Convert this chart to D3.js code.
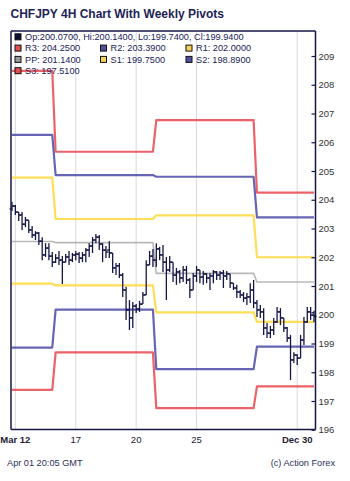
<!DOCTYPE html>
<html><head><meta charset="utf-8">
<script src="https://cdn.jsdelivr.net/npm/d3@7"></script>
<style>body{margin:0;background:#fff}svg{display:block}text{font-family:"Liberation Sans",Arial,sans-serif}</style>
</head><body>
<svg id="c" width="350" height="481"></svg>
<script>
// ---- data ----
const opens  = [203.68,203.78,203.57,203.47,203.15,203.29,202.95,202.77,202.84,202.56,202.08,202.32,202.04,201.83,201.97,201.90,201.83,202.01,201.90,202.08,202.11,201.97,202.08,202.25,202.39,202.60,202.70,202.46,202.25,202.25,202.15,201.63,201.70,201.38,200.86,200.17,199.89,200.30,200.20,200.37,200.69,201.73,202.04,201.90,202.29,202.08,201.83,201.56,201.83,201.38,201.49,201.28,201.56,201.21,200.86,201.35,201.56,201.31,201.42,201.28,201.35,201.49,201.38,201.45,201.35,201.42,201.10,200.93,200.79,200.69,200.58,200.62,200.86,200.41,200.17,200.10,199.54,199.36,199.47,199.75,200.10,199.89,199.54,199.19,198.43,198.60,198.49,199.12,199.75,200.10,200.07];
const highs  = [203.92,203.82,203.57,203.57,203.40,203.29,203.09,202.91,202.88,202.70,202.49,202.49,202.18,202.11,202.22,202.04,202.11,202.22,202.15,202.22,202.18,202.18,202.32,202.49,202.70,202.81,202.77,202.49,202.39,202.56,202.15,201.80,201.80,201.45,200.97,200.51,200.44,200.37,200.48,200.79,201.90,202.22,202.29,202.49,202.36,202.43,202.01,202.04,201.83,201.63,201.56,201.70,201.70,201.28,201.45,201.70,201.56,201.52,201.45,201.45,201.56,201.52,201.52,201.56,201.52,201.42,201.10,201.04,200.86,200.79,200.76,201.10,201.21,200.51,200.34,200.23,199.71,199.61,199.89,200.27,200.23,199.89,199.57,199.30,198.70,198.63,199.30,199.92,200.27,200.27,200.14];
const lows   = [203.61,203.47,203.26,202.95,203.05,202.84,202.67,202.60,202.43,201.90,202.01,201.90,201.66,201.80,201.73,201.07,201.83,201.73,201.83,201.90,201.80,201.83,201.83,202.01,202.15,202.49,202.25,201.83,201.97,201.97,201.45,201.38,201.28,200.62,199.82,199.47,199.54,200.06,200.10,200.37,200.69,201.73,201.66,201.66,201.90,201.49,200.51,201.49,201.14,201.04,201.10,201.14,201.07,200.58,200.86,201.14,201.10,201.04,201.10,200.86,201.10,201.21,201.21,200.93,201.21,200.93,200.86,200.58,200.58,200.44,200.34,200.41,200.23,199.92,199.89,199.30,199.19,199.19,199.30,199.71,199.64,199.40,199.05,197.73,198.32,198.25,198.49,198.95,199.71,199.82,199.74];
const closes = [203.78,203.57,203.47,203.15,203.29,202.95,202.77,202.84,202.56,202.08,202.32,202.04,201.83,201.97,201.90,201.83,202.01,201.90,202.08,202.11,201.97,202.08,202.25,202.39,202.60,202.70,202.46,202.25,202.18,202.15,201.63,201.70,201.38,200.86,200.17,199.89,200.30,200.20,200.37,200.69,201.73,202.04,201.90,202.29,202.08,201.83,201.56,201.83,201.38,201.49,201.28,201.56,201.21,200.86,201.35,201.56,201.31,201.42,201.28,201.35,201.49,201.38,201.45,201.35,201.42,201.10,200.93,200.79,200.69,200.58,200.62,200.86,200.41,200.17,200.10,199.54,199.36,199.47,199.75,200.10,199.89,199.54,199.19,198.43,198.60,198.49,199.12,199.75,200.10,199.99,199.94];

// weekly pivots (one value per week), week starts given as bar index
const weekStarts = [0, 13, 43, 73];
const R3 = [208.48, 205.67, 206.77, 204.25];
const R2 = [206.26, 204.86, 204.80, 203.39];
const R1 = [204.77, 203.33, 203.46, 202.00];
const PP = [202.55, 202.51, 201.44, 201.14];
const S1 = [201.08, 201.02, 200.08, 199.75];
const S2 = [198.86, 200.18, 198.11, 198.89];
const S3 = [197.39, 198.69, 196.75, 197.51];

const xTickIdx = [1, 19, 37, 55, 85];
const xTickLabels = ["Mar 12", "17", "20", "25", "Dec 30"];
const xTickBold = [true, false, false, false, true];
const yTicks = [196,197,198,199,200,201,202,203,204,205,206,207,208,209];

const title = "CHFJPY 4H Chart With Weekly Pivots";
const ohlcLabel = "Op:200.0700, Hi:200.1400, Lo:199.7400, Cl:199.9400";
const footLeft = "Apr 01 20:05 GMT";
const footRight = "(c) Action Forex";

// ---- drawing ----
const svg = d3.select("#c");
const N = opens.length;
const x = d3.scaleLinear().domain([0, N - 1]).range([12, 314]);
const y = d3.scaleLinear().domain([196, 209]).range([429.75, 56]);
const L = 11, R = 315.5, T = 31, B = 429.5;
const navy = "#161645";

// grid
svg.append("g").selectAll("line").data(xTickIdx).join("line")
  .attr("x1", d => x(d)).attr("x2", d => x(d)).attr("y1", T).attr("y2", B)
  .attr("stroke", "#d9d9e0").attr("stroke-width", 1);

// pivot lines
function weekOf(i){ let w = 0; weekStarts.forEach((s,k)=>{ if (i >= s) w = k; }); return w; }
const pivots = [
  {vals: R3, color: "#e8484e", w: 2.2},
  {vals: R2, color: "#4a4aa6", w: 2.2},
  {vals: R1, color: "#ffd83a", w: 2.2},
  {vals: PP, color: "#ababab", w: 1.6},
  {vals: S1, color: "#ffd83a", w: 2.2},
  {vals: S2, color: "#4a4aa6", w: 2.2},
  {vals: S3, color: "#e8484e", w: 2.2}
];
const line = d3.line().x(d => x(d[0])).y(d => y(d[1]));
pivots.forEach(p => {
  const pts = d3.range(N).map(i => [i, p.vals[weekOf(i)]]);
  svg.append("path").attr("d", line(pts)).attr("fill", "none")
    .attr("stroke", p.color).attr("stroke-width", p.w).attr("stroke-opacity", 0.85)
    .attr("stroke-linejoin", "round");
});

// OHLC bars
const gb = svg.append("g").attr("stroke", navy).attr("stroke-width", 1.3);
d3.range(N).forEach(i => {
  const cx = x(i);
  gb.append("line").attr("x1", cx).attr("x2", cx).attr("y1", y(highs[i])).attr("y2", y(lows[i]));
  gb.append("line").attr("x1", cx - 2.5).attr("x2", cx).attr("y1", y(opens[i])).attr("y2", y(opens[i]));
  gb.append("line").attr("x1", cx).attr("x2", cx + 2.5).attr("y1", y(closes[i])).attr("y2", y(closes[i]));
});

// frame
svg.append("line").attr("x1", L).attr("x2", L).attr("y1", T).attr("y2", B).attr("stroke", navy).attr("stroke-width", 1.5);
svg.append("line").attr("x1", L).attr("x2", R).attr("y1", T).attr("y2", T).attr("stroke", navy).attr("stroke-width", 1.5);
svg.append("line").attr("x1", L).attr("x2", R).attr("y1", B).attr("y2", B).attr("stroke", navy).attr("stroke-width", 1.5);

// right axis
const yAxis = d3.axisRight(y).tickValues(yTicks).tickSize(0).tickPadding(3).tickFormat(d3.format("d"));
const ga = svg.append("g").attr("transform", `translate(${R},0)`).call(yAxis);
ga.select(".domain").attr("stroke", navy).attr("stroke-width", 1.5).attr("d", `M0,${T}V${B}`);
ga.selectAll(".tick text").attr("font-size", 9.5).attr("fill", "#333").attr("font-family", "Liberation Sans, Arial, sans-serif");
ga.selectAll(".tick").append("line").attr("x1", -4).attr("x2", 0).attr("stroke", navy).attr("stroke-width", 1.2);

// x labels
svg.append("g").selectAll("text").data(xTickIdx).join("text")
  .attr("x", d => x(d)).attr("y", 443).attr("text-anchor", "middle")
  .attr("font-size", 9.5).attr("fill", "#222233")
  .attr("font-weight", (d,i) => xTickBold[i] ? "bold" : "normal")
  .text((d,i) => xTickLabels[i]);

// title
svg.append("text").attr("x", 10.5).attr("y", 18.3).attr("font-size", 12).attr("font-weight", "bold")
  .attr("fill", "#1c2456").text(title);

// legend
const txtCol = "#222255";
const legend = [
  {row:0, col:0, fill:"#0e0e35", label: ohlcLabel},
  {row:1, col:0, fill:"#e05050", label:"R3: 204.2500"},
  {row:1, col:1, fill:"#5050a0", label:"R2: 203.3900"},
  {row:1, col:2, fill:"#f5d555", label:"R1: 202.0000"},
  {row:2, col:0, fill:"#9a9a9a", label:"PP: 201.1400"},
  {row:2, col:1, fill:"#f5d555", label:"S1: 199.7500"},
  {row:2, col:2, fill:"#5050a0", label:"S2: 198.8900"},
  {row:3, col:0, fill:"#e05050", label:"S3: 197.5100"}
];
const colX = [15, 100.5, 186];
const gl = svg.append("g");
legend.forEach(e => {
  const cy = 36.8 + e.row * 11.3;
  gl.append("rect").attr("x", colX[e.col]).attr("y", cy - 3).attr("width", 6).attr("height", 6)
    .attr("fill", e.fill).attr("stroke", "#111").attr("stroke-width", 1);
  gl.append("text").attr("x", colX[e.col] + 10).attr("y", cy + 3.3).attr("font-size", 9.2)
    .attr("fill", txtCol).text(e.label);
});

// footer
svg.append("text").attr("x", 7).attr("y", 465.5).attr("font-size", 9.2).attr("fill", "#2a2f5a").text(footLeft);
svg.append("text").attr("x", 335).attr("y", 465.5).attr("font-size", 9.2).attr("fill", "#2a2f5a")
  .attr("text-anchor", "end").text(footRight);
</script>
</body></html>
